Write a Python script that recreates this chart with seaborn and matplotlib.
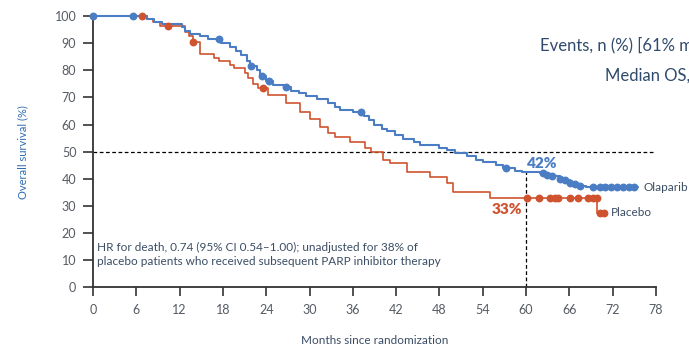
import numpy as np
import pandas as pd
import seaborn as sns
import matplotlib
matplotlib.use("Agg")
import matplotlib.pyplot as plt

# Kaplan-Meier steps (months, % alive after each drop)
ola_t = [0, 7.5, 8.5, 9.5, 12.3, 12.8, 13.5, 14.8, 16.0, 17.8, 19.0, 19.8, 20.5, 21.3, 21.8,
         22.7, 23.2, 24.0, 25.0, 26.4, 27.5, 28.5, 29.5, 31.0, 32.5, 33.5, 34.2, 36.0, 37.5,
         38.2, 39.0, 40.0, 40.7, 41.8, 43.0, 44.5, 45.3, 48.0, 49.0, 50.2, 51.8, 53.0, 54.0,
         55.8, 56.8, 58.5, 59.5, 62.0, 62.9, 63.6, 64.7, 65.4, 66.1, 66.8, 67.5, 68.3, 75.5]
ola_s = [100, 99, 98, 97.2, 96, 94.5, 93.5, 92.5, 91.5, 90, 88.5, 87, 85.5, 83.5, 81.5,
         80, 78, 76, 74.5, 74, 72.5, 71.5, 70.5, 69.5, 68, 66.5, 65.5, 64.5, 63,
         61.5, 60, 58.5, 57.5, 56, 54.5, 53.5, 52.5, 51.5, 50.5, 49.5, 48.5, 47, 46,
         45, 44, 43, 42.5, 42, 41.5, 41, 40, 39.5, 38.5, 38, 37.5, 37, 37]
ola_cens = [0, 5.5, 17.5, 21.9, 23.4, 24.4, 26.7, 37.1, 57.2, 62.3, 62.9, 63.6, 64.7, 65.4,
            66.1, 66.8, 67.5, 69.3, 70.2, 71.0, 71.8, 72.6, 73.4, 74.2, 75.0]

pla_t = [0, 7.5, 8.3, 9.3, 12.7, 13.3, 13.9, 14.8, 16.8, 17.5, 19.0, 19.5, 21.0, 21.5, 22.2,
         22.8, 24.2, 26.8, 28.7, 30.0, 31.4, 32.5, 33.5, 35.6, 37.7, 38.5, 40.2, 41.1, 43.5,
         46.7, 49.0, 49.9, 55.0, 69.9, 70.9]
pla_s = [100, 99, 97.8, 96.5, 94, 92.5, 90.5, 86, 84.5, 83.5, 82, 81, 79, 77, 75,
         73.5, 71, 68, 64.5, 62, 59, 57, 55.5, 53.5, 51.5, 50, 47, 45.7, 42.5,
         40.5, 38.5, 35, 33, 27.5, 27.5]
pla_cens = [6.8, 10.4, 13.9, 23.6, 60.1, 61.8, 63.3, 64.0, 64.4, 66.1, 67.2, 68.6, 69.3,
            69.8, 70.3, 70.8]

x_ticks = list(range(0, 79, 6))
y_ticks = list(range(0, 101, 10))

BLUE = "#4a7dc3"
RED = "#d0532f"
SLATE = "#3b4d64"


def surv_at(t, s, times):
    idx = np.searchsorted(t, times, side="right") - 1
    return np.asarray(s)[idx]


sns.set_style("white")
plt.rcParams["font.family"] = ["Lato", "DejaVu Sans"]

fig = plt.figure(figsize=(6.89, 3.51), dpi=100)
ax = fig.add_axes([0.135, 0.182, 0.817, 0.772])

ola = pd.DataFrame({"t": ola_t, "s": ola_s})
pla = pd.DataFrame({"t": pla_t, "s": pla_s})

sns.lineplot(data=pla, x="t", y="s", ax=ax, color=RED, lw=1.2, drawstyle="steps-post",
             estimator=None, sort=False, clip_on=False)
sns.lineplot(data=ola, x="t", y="s", ax=ax, color=BLUE, lw=1.5, drawstyle="steps-post",
             estimator=None, sort=False, clip_on=False)

sns.scatterplot(x=pla_cens, y=surv_at(pla_t, pla_s, pla_cens), ax=ax, color=RED, s=32,
                linewidth=0, clip_on=False, zorder=4)
sns.scatterplot(x=ola_cens, y=surv_at(ola_t, ola_s, ola_cens), ax=ax, color=BLUE, s=32,
                linewidth=0, clip_on=False, zorder=4)

# reference lines
ax.plot([0, 78], [50, 50], ls=(0, (3, 2)), color="black", lw=0.9, zorder=1)
ax.plot([60, 60], [0, surv_at(ola_t, ola_s, [60])[0]], ls=(0, (3, 2)), color="black", lw=0.9, zorder=1)

ax.set_xlim(0, 78)
ax.set_ylim(0, 100)
ax.set_xticks(x_ticks)
ax.set_yticks(y_ticks)
ax.tick_params(axis="x", length=6.5, width=1.2, pad=6, labelsize=9, colors="#333333", labelcolor="#555b63")
ax.tick_params(axis="y", length=7, width=1.2, pad=5, labelsize=9, colors="#333333", labelcolor="#555b63")
ax.tick_params(bottom=True, left=True)
sns.despine(ax=ax)
for sp in ["left", "bottom"]:
    ax.spines[sp].set_color("#333333")
    ax.spines[sp].set_linewidth(1.3)

ax.set_xlabel("Months since randomization", fontsize=8.5, color=SLATE)
ax.set_ylabel("Overall survival (%)", fontsize=8, color="#2f6cb5")
ax.xaxis.set_label_coords(0.5, -0.175)
ax.yaxis.set_label_coords(-0.115, 0.5)

# annotations
ax.text(60.1, 45.7, "42%", color=BLUE, fontsize=11, fontweight="heavy", ha="left", va="center")
ax.text(59.4, 28.7, "33%", color=RED, fontsize=11, fontweight="heavy", ha="right", va="center")
ax.text(76.3, 36.9, "Olaparib", color=SLATE, fontsize=8.5, ha="left", va="center", clip_on=False)
ax.text(71.8, 27.7, "Placebo", color=SLATE, fontsize=8.5, ha="left", va="center")
ax.text(0.5, 12.0, "HR for death, 0.74 (95% CI 0.54\u20131.00); unadjusted for 38% of\n"
        "placebo patients who received subsequent PARP inhibitor therapy",
        color=SLATE, fontsize=8.5, ha="left", va="center", linespacing=1.25)
ax.text(61.9, 89.3, "Events, n (%) [61% maturity]", color="#2f4a6c", fontsize=12,
        ha="left", va="center", clip_on=False)
ax.text(70.9, 78.2, "Median OS, months", color="#2f4a6c", fontsize=12,
        ha="left", va="center", clip_on=False)

fig.savefig("out.png", dpi=100)
